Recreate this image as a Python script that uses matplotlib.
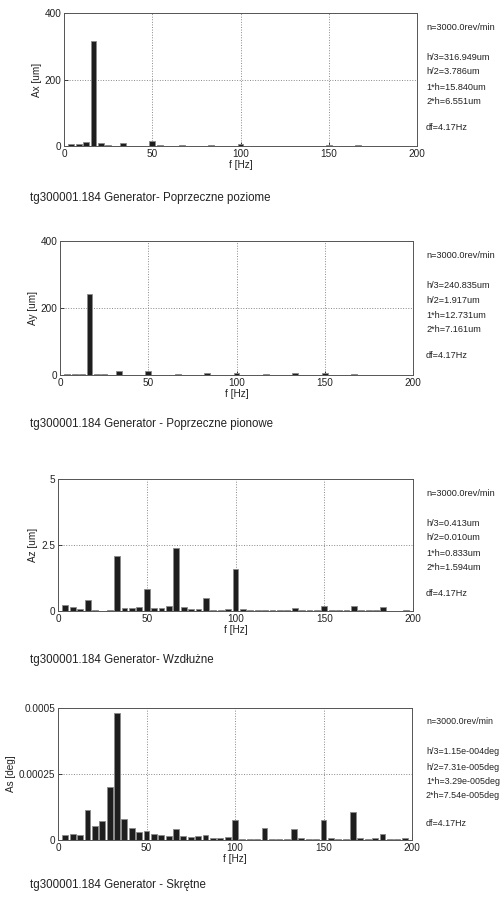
import matplotlib
matplotlib.use("Agg")
import matplotlib.pyplot as plt
from matplotlib.ticker import FixedLocator, FixedFormatter

plt.rcParams['font.family'] = ['Liberation Sans', 'DejaVu Sans']

freq = [4.17, 8.33, 12.50, 16.67, 20.83, 25.00, 29.17, 33.33, 37.50, 41.67,
        45.83, 50.00, 54.17, 58.33, 62.50, 66.67, 70.83, 75.00, 79.17, 83.33,
        87.50, 91.67, 95.83, 100.00, 104.17, 108.33, 112.50, 116.67, 120.83, 125.00,
        129.17, 133.33, 137.50, 141.67, 145.83, 150.00, 154.17, 158.33, 162.50, 166.67,
        170.83, 175.00, 179.17, 183.33, 187.50, 191.67, 195.83]

ax_vals = [6, 6, 11, 316.949, 9, 3.786, 1, 9, 1, 1,
           0.5, 15.84, 2, 0.5, 0.5, 3, 0.5, 0.5, 0.5, 2,
           0.5, 0.5, 0.5, 6.551, 0.5, 0.5, 0.5, 1.5, 0.3, 0.3,
           0.3, 1, 0.3, 0.3, 0.3, 3, 0.3, 0.3, 0.3, 2,
           0.3, 0.3, 0.3, 1, 0.3, 0.3, 0.3]

ay_vals = [2, 2, 4, 240.835, 4, 1.917, 1, 12, 0.5, 0.5,
           0.5, 12.731, 0.5, 0.5, 0.5, 3, 0.5, 0.5, 0.5, 6,
           0.5, 0.5, 0.5, 7.161, 0.5, 0.5, 0.5, 3, 0.3, 0.3,
           0.3, 6, 0.3, 0.3, 0.3, 7, 0.3, 0.3, 0.3, 1.5,
           0.3, 0.3, 0.3, 0.3, 0.3, 0.3, 0.3]

az_vals = [0.21, 0.15, 0.09, 0.413, 0.04, 0.010, 0.03, 2.1, 0.11, 0.10,
           0.16, 0.833, 0.13, 0.10, 0.20, 2.4, 0.15, 0.09, 0.06, 0.48,
           0.02, 0.02, 0.06, 1.594, 0.06, 0.05, 0.04, 0.05, 0.02, 0.02,
           0.02, 0.12, 0.02, 0.02, 0.02, 0.20, 0.02, 0.02, 0.02, 0.18,
           0.02, 0.02, 0.02, 0.17, 0.01, 0.01, 0.03]

as_vals = [1.9e-5, 2.3e-5, 1.9e-5, 11.5e-5, 5.3e-5, 7.31e-5, 20.0e-5, 48.0e-5, 8.1e-5, 4.7e-5,
           3.2e-5, 3.29e-5, 2.3e-5, 1.9e-5, 1.6e-5, 4.2e-5, 1.5e-5, 1.3e-5, 1.5e-5, 1.9e-5,
           0.8e-5, 0.8e-5, 1.3e-5, 7.54e-5, 0.3e-5, 0.3e-5, 0.4e-5, 4.5e-5, 0.4e-5, 0.3e-5,
           0.3e-5, 4.2e-5, 0.7e-5, 0.4e-5, 0.4e-5, 7.7e-5, 0.6e-5, 0.4e-5, 0.5e-5, 10.6e-5,
           0.7e-5, 0.4e-5, 0.6e-5, 2.3e-5, 0.4e-5, 0.4e-5, 0.6e-5]

ylabels = ["Ax [um]", "Ay [um]", "Az [um]", "As [deg]"]
yticks = [[0, 200, 400], [0, 200, 400], [0, 2.5, 5], [0, 0.00025, 0.0005]]
yticklabels = [["0", "200", "400"], ["0", "200", "400"], ["0", "2.5", "5"],
               ["0", "0.00025", "0.0005"]]
xticks = [0, 50, 100, 150, 200]
titles = ["tg300001.184 Generator- Poprzeczne poziome",
          "tg300001.184 Generator - Poprzeczne pionowe",
          "tg300001.184 Generator- Wzdłużne",
          "tg300001.184 Generator - Skrętne"]
info = [["n=3000.0rev/min", "h/3=316.949um", "h/2=3.786um", "1*h=15.840um", "2*h=6.551um", "df=4.17Hz"],
        ["n=3000.0rev/min", "h/3=240.835um", "h/2=1.917um", "1*h=12.731um", "2*h=7.161um", "df=4.17Hz"],
        ["n=3000.0rev/min", "h/3=0.413um", "h/2=0.010um", "1*h=0.833um", "2*h=1.594um", "df=4.17Hz"],
        ["n=3000.0rev/min", "h/3=1.15e-004deg", "h/2=7.31e-005deg", "1*h=3.29e-005deg",
         "2*h=7.54e-005deg", "df=4.17Hz"]]
series = [ax_vals, ay_vals, az_vals, as_vals]

W, H = 501, 901
fig = plt.figure(figsize=(W / 100, H / 100), dpi=100)
fig.patch.set_facecolor('white')

# pixel boxes (left, top, right, bottom)
boxes = [(64, 13, 417, 146), (60, 241, 413, 375), (58, 479, 413, 611), (58, 708, 412, 840)]
title_y = [198, 424, 660, 885]
info_offsets = [14, 44, 59, 74, 88, 115]
info_size = [6.6, 6.6, 6.6, 6.4]

for i, (l, t, r, b) in enumerate(boxes):
    ax = fig.add_axes([l / W, 1 - b / H, (r - l) / W, (b - t) / H])
    ax.bar(freq, series[i], width=3.3, color='#1e1e1e', edgecolor='#8a8a8a',
           linewidth=0.6, zorder=3)
    ax.set_xlim(0, 200)
    ax.set_ylim(yticks[i][0], yticks[i][-1])
    ax.xaxis.set_major_locator(FixedLocator(xticks))
    ax.yaxis.set_major_locator(FixedLocator(yticks[i]))
    ax.yaxis.set_major_formatter(FixedFormatter(yticklabels[i]))
    ax.grid(True, linestyle=':', color='#888888', linewidth=0.7, zorder=0)
    ax.tick_params(direction='in', length=3, width=0.6, labelsize=7.2,
                   colors='#222222', pad=2, top=False, right=False)
    for s in ax.spines.values():
        s.set_color('#555555')
        s.set_linewidth(0.7)
    ax.set_xlabel("f [Hz]", fontsize=7.2, labelpad=1, color='#222222')
    ax.set_ylabel(ylabels[i], fontsize=7.2, labelpad=2, color='#222222')

    for txt, off in zip(info[i], info_offsets):
        fig.text(426 / W, 1 - (t + off) / H, txt, fontsize=info_size[i], va='center',
                 ha='left', color='#222222')
    fig.text(30 / W, 1 - title_y[i] / H, titles[i], fontsize=8.3, va='center',
             ha='left', color='#222222')

fig.savefig("out.png", dpi=100)
